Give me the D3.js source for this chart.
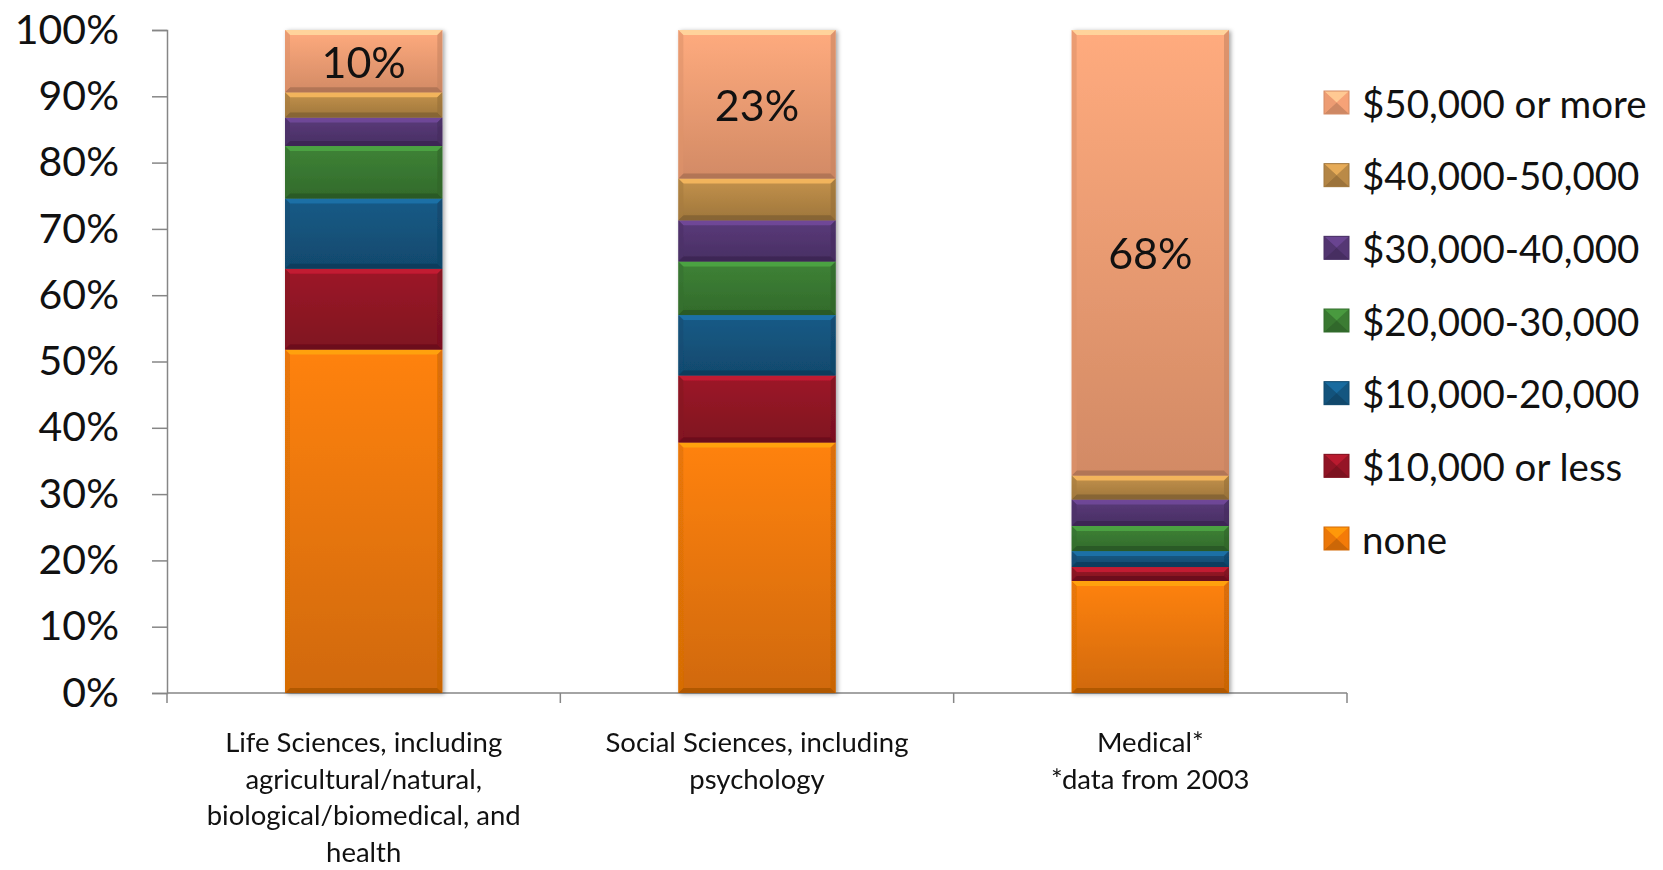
<!DOCTYPE html>
<html>
<head>
<meta charset="utf-8">
<script src="https://cdn.jsdelivr.net/npm/d3@7"></script>
<style>
  body { margin: 0; background: #fff; }
  text { font-family: Lato, "Open Sans", sans-serif; fill: #111; }
</style>
</head>
<body>
<svg id="chart"></svg>
<script>
// categories (x axis), one label line per entry
const categories = ["life", "social", "medical"];
const categoryLines = [
  ["Life Sciences, including", "agricultural/natural,", "biological/biomedical, and", "health"],
  ["Social Sciences, including", "psychology"],
  ["Medical*", "*data from 2003"]
];

// series, bottom to top of the stack
const seriesNames = ["none", "$10,000 or less", "$10,000-20,000", "$20,000-30,000",
                     "$30,000-40,000", "$40,000-50,000", "$50,000 or more"];
const seriesColors = ["#F47B08", "#951526", "#145680", "#3B7C33", "#553774", "#BA8A47", "#F6A277"];

// percent of each category
const noneVals   = [51.8, 37.8, 16.9];
const le10kVals  = [12.2, 10.1, 2.1];
const k10to20    = [10.6, 9.1, 2.4];
const k20to30    = [7.9, 8.1, 3.8];
const k30to40    = [4.3, 6.2, 4.0];
const k40to50    = [3.8, 6.3, 3.6];
const k50plus    = [9.4, 22.4, 67.2];

// labels printed in the top segment
const topLabels = ["10%", "23%", "68%"];

const yTicks = [0, 10, 20, 30, 40, 50, 60, 70, 80, 90, 100];

const W = 1663, H = 870;
const svg = d3.select("#chart").attr("width", W).attr("height", H);

const seriesVals = [noneVals, le10kVals, k10to20, k20to30, k30to40, k40to50, k50plus];
const table = categories.map((c, i) => {
  let row = {cat: c};
  seriesNames.forEach((s, j) => row[s] = seriesVals[j][i]);
  return row;
});
const stacked = d3.stack().keys(seriesNames)(table);

const x = d3.scaleBand().domain(categories).range([167, 1347])
  .paddingInner(0.6).paddingOuter(0.3);
const y = d3.scaleLinear().domain([0, 100]).range([693, 30]);

// gradients
const defs = svg.append("defs");
seriesColors.forEach((c, i) => {
  let g = defs.append("linearGradient").attr("id", "grad" + i)
    .attr("x1", 0).attr("y1", 0).attr("x2", 0).attr("y2", 1);
  g.append("stop").attr("offset", "0%").attr("stop-color", d3.color(c).brighter(0.15));
  g.append("stop").attr("offset", "100%").attr("stop-color", d3.color(c).darker(0.45));
});
let f = defs.append("filter").attr("id", "shadow")
  .attr("x", "-10%").attr("y", "-10%").attr("width", "130%").attr("height", "130%");
f.append("feDropShadow").attr("dx", 2).attr("dy", 1).attr("stdDeviation", 2)
  .attr("flood-color", "#000").attr("flood-opacity", 0.35);

// y axis
const yAxis = svg.append("g").attr("transform", "translate(167,0)")
  .call(d3.axisLeft(y).tickValues(yTicks).tickSize(15).tickPadding(33).tickFormat(d => d + "%"));
yAxis.select(".domain").attr("stroke", "#868686").attr("stroke-width", 1.5);
yAxis.selectAll(".tick line").attr("stroke", "#868686").attr("stroke-width", 1.5);
yAxis.selectAll(".tick text").style("font-size", "41px").attr("fill", "#111")
  .attr("font-family", "Lato");

// x axis line with ticks at the band edges
const bounds = categories.map(c => x(c) - x.step() * x.paddingOuter()).concat([x.range()[1]]);
svg.append("line").attr("x1", x.range()[0]).attr("x2", x.range()[1])
  .attr("y1", y(0)).attr("y2", y(0)).attr("stroke", "#868686").attr("stroke-width", 1.5);
svg.selectAll(".xtick").data(bounds).enter().append("line")
  .attr("x1", d => d).attr("x2", d => d)
  .attr("y1", y(0)).attr("y2", y(0) + 10)
  .attr("stroke", "#868686").attr("stroke-width", 1.5);

// bars
const bw = x.bandwidth();
const bars = svg.append("g").attr("filter", "url(#shadow)");
stacked.forEach((layer, si) => {
  let base = d3.color(seriesColors[si]);
  let seg = bars.selectAll(".s" + si).data(layer).enter().append("g");
  seg.append("rect")
    .attr("x", d => x(d.data.cat)).attr("y", d => y(d[1]))
    .attr("width", bw).attr("height", d => y(d[0]) - y(d[1]))
    .attr("fill", "url(#grad" + si + ")");
  // bevel: light top edge, dark bottom edge, shaded sides
  seg.append("path")
    .attr("d", d => {
      let x0 = x(d.data.cat), x1 = x0 + bw, t = y(d[1]);
      return `M${x0},${t}L${x1},${t}L${x1 - 5},${t + 5}L${x0 + 5},${t + 5}Z`;
    })
    .attr("fill", base.brighter(0.8)).attr("opacity", 0.9);
  seg.append("path")
    .attr("d", d => {
      let x0 = x(d.data.cat), x1 = x0 + bw, b = y(d[0]);
      return `M${x0},${b}L${x1},${b}L${x1 - 5},${b - 5}L${x0 + 5},${b - 5}Z`;
    })
    .attr("fill", base.darker(1.0)).attr("opacity", 0.85);
  seg.append("path")
    .attr("d", d => {
      let x0 = x(d.data.cat), t = y(d[1]), b = y(d[0]);
      return `M${x0},${t}L${x0 + 5},${t + 5}L${x0 + 5},${b - 5}L${x0},${b}Z`;
    })
    .attr("fill", base.darker(0.3)).attr("opacity", 0.6);
  seg.append("path")
    .attr("d", d => {
      let x1 = x(d.data.cat) + bw, t = y(d[1]), b = y(d[0]);
      return `M${x1},${t}L${x1 - 5},${t + 5}L${x1 - 5},${b - 5}L${x1},${b}Z`;
    })
    .attr("fill", base.darker(0.6)).attr("opacity", 0.6);
});

// labels in the top segment
const topLayer = stacked[stacked.length - 1];
svg.selectAll(".toplabel").data(topLayer).enter().append("text")
  .attr("x", d => x(d.data.cat) + bw / 2)
  .attr("y", d => (y(d[0]) + y(d[1])) / 2)
  .attr("text-anchor", "middle").attr("dominant-baseline", "central")
  .style("font-size", "43px")
  .text((d, i) => topLabels[i]);

// category labels
const catText = svg.selectAll(".cat").data(categories).enter().append("text")
  .attr("text-anchor", "middle").style("font-size", "27.5px");
catText.each(function(c, i) {
  let t = d3.select(this);
  categoryLines[i].forEach((ln, k) => {
    t.append("tspan").attr("x", x(c) + bw / 2).attr("y", 752 + k * 36.6).text(ln);
  });
});

// legend, top series first
const legendOrder = seriesNames.slice().reverse();
const ly = d3.scalePoint().domain(legendOrder).range([102.5, 538.5]);
const leg = svg.selectAll(".leg").data(legendOrder).enter().append("g")
  .attr("transform", d => `translate(1324,${ly(d)})`);
leg.each(function(s) {
  let g = d3.select(this);
  let c = d3.color(seriesColors[seriesNames.indexOf(s)]);
  let w = 25, h = 23, cx = w / 2, cy = 0;
  g.append("rect").attr("x", 0).attr("y", -h / 2).attr("width", w).attr("height", h).attr("fill", c);
  g.append("path").attr("d", `M0,${-h/2}L${w},${-h/2}L${cx},${cy}Z`).attr("fill", c.brighter(0.6));
  g.append("path").attr("d", `M0,${h/2}L${w},${h/2}L${cx},${cy}Z`).attr("fill", c.darker(0.5));
  g.append("path").attr("d", `M0,${-h/2}L0,${h/2}L${cx},${cy}Z`).attr("fill", c.darker(0.1));
  g.append("rect").attr("x", 0).attr("y", -h / 2).attr("width", w).attr("height", h)
    .attr("fill", "none").attr("stroke", c.darker(0.4)).attr("stroke-width", 1);
});
leg.append("text").attr("x", 38).attr("y", 0).attr("dominant-baseline", "central")
  .style("font-size", "38.5px").text(d => d);
</script>
</body>
</html>
